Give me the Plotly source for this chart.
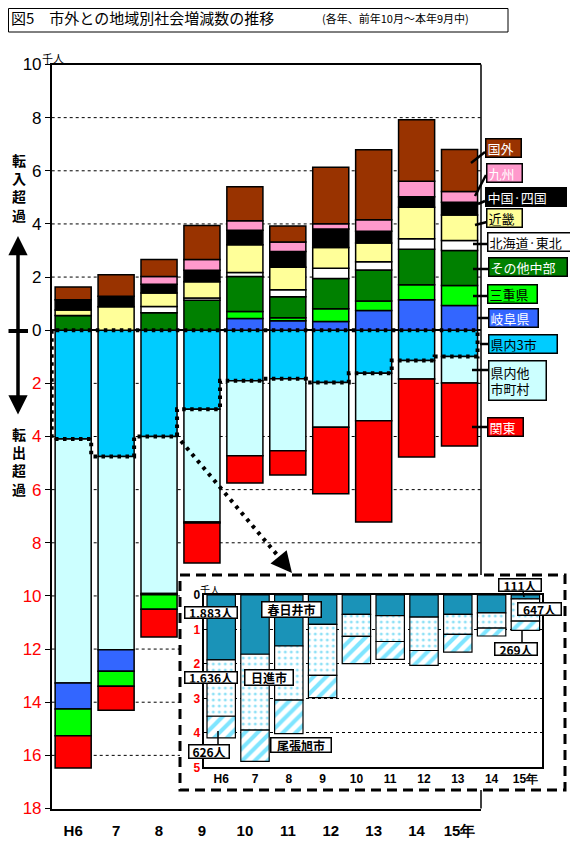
import plotly.graph_objects as go

# 図5 市外との地域別社会増減数の推移 (単位: 千人)
years = ["H6", "7", "8", "9", "10", "11", "12", "13", "14", "15年"]

# 転入超過はプラス, 転出超過はマイナス
kennai3 = [-4.09, -4.75, -4.00, -2.97, -1.90, -1.83, -1.97, -1.62, -1.14, -0.99]
kennai_other = [-9.19, -7.28, -5.91, -4.25, -2.82, -2.71, -1.68, -1.79, -0.70, -1.00]
gifu = [-0.98, -0.80, -0.05, 0, 0.44, 0.36, 0.33, 0.74, 1.15, 0.93]
mie = [-1.00, -0.57, -0.54, -0.04, 0.26, 0.11, 0.48, 0.36, 0.56, 0.75]
chubu = [0.55, 0, 0.66, 1.13, 1.32, 0.79, 1.14, 1.17, 1.34, 1.32]
hokkaido_tohoku = [0, 0, 0.23, 0.08, 0.15, 0.26, 0.38, 0.31, 0.39, 0.38]
kinki = [0.21, 0.88, 0.51, 0.61, 1.05, 0.85, 0.78, 0.70, 1.19, 0.96]
chugoku_shikoku = [0.39, 0.40, 0.33, 0.44, 0.54, 0.59, 0.70, 0.44, 0.39, 0.48]
kyushu = [0, 0, 0.29, 0.40, 0.36, 0.36, 0.20, 0.44, 0.59, 0.40]
kokugai = [0.48, 0.81, 0.64, 1.28, 1.28, 0.60, 2.12, 2.63, 2.31, 1.58]
kanto = [-1.22, -0.90, -1.05, -1.50, -1.03, -0.91, -2.50, -3.81, -2.93, -2.37]

# 県内3市の内訳 (転出超過, 千人)
kasugai = [1.883, 1.72, 1.48, 0.85, 0.56, 0.60, 0.64, 0.56, 0.52, 0.111]
nisshin = [1.636, 2.20, 1.57, 1.48, 0.64, 0.75, 0.97, 0.58, 0.44, 0.647]
owariasahi = [0.626, 0.91, 0.97, 0.65, 0.79, 0.52, 0.43, 0.52, 0.23, 0.269]

main_ticks = list(range(-18, 11, 2))
inset_ticks = [0, 1, 2, 3, 4, 5]

# page has an 8px body margin, so the figure is drawn 8px in from the corner
OFF = 8
W, H = 578 - OFF, 852 - OFF
JP = "Noto Sans CJK JP"
NUM = "Liberation Sans"


def px(x):
    return (x - OFF) / W


def py(y):
    return 1 - (y - OFF) / H


xs = list(range(len(years)))
fig = go.Figure()

main_series = [
    ("県内3市", kennai3, "#00CCFF"),
    ("県内他市町村", kennai_other, "#CCFFFF"),
    ("岐阜県", gifu, "#3366FF"),
    ("三重県", mie, "#00FF00"),
    ("その他中部", chubu, "#008000"),
    ("北海道・東北", hokkaido_tohoku, "#FFFFFF"),
    ("近畿", kinki, "#FFFF99"),
    ("中国・四国", chugoku_shikoku, "#000000"),
    ("九州", kyushu, "#FF99CC"),
    ("国外", kokugai, "#993300"),
    ("関東", kanto, "#FF0000"),
]
for name, vals, col in main_series:
    fig.add_trace(go.Bar(x=xs, y=vals, name=name, marker_color=col,
                         marker_line=dict(color="black", width=1.5),
                         xaxis="x", yaxis="y"))

# dotted outline around the 県内3市 block
half = (1 - 0.16) / 2
ox, oy = [-0.5, -0.5], [0, kennai3[0]]
for i, v in enumerate(kennai3):
    ox += [i + half, i + half]
    oy += [v, kennai3[i + 1] if i + 1 < len(kennai3) else 0]
ox.append(-0.5)
oy.append(0)
fig.add_trace(go.Scatter(x=ox, y=oy, mode="lines", xaxis="x", yaxis="y",
                         line=dict(color="black", width=4, dash="3.5px,4.5px"),
                         hoverinfo="skip"))

# inset: 県内3市
fig.add_trace(go.Bar(x=xs, y=kasugai, name="春日井市", xaxis="x2", yaxis="y2",
                     marker_color="#1A93B8",
                     marker_line=dict(color="black", width=1.2)))
fig.add_trace(go.Bar(x=xs, y=nisshin, name="日進市", xaxis="x2", yaxis="y2",
                     marker=dict(color="white",
                                 line=dict(color="black", width=1.2),
                                 pattern=dict(shape=".", fgcolor="#22C4EE",
                                              bgcolor="white", size=6, solidity=0.2))))
fig.add_trace(go.Bar(x=xs, y=owariasahi, name="尾張旭市", xaxis="x2", yaxis="y2",
                     marker=dict(color="white",
                                 line=dict(color="black", width=1.2),
                                 pattern=dict(shape="/", fgcolor="#00CCFF",
                                              bgcolor="white", size=9, solidity=0.45))))


def red(t):
    return '<span style="color:#FF0000">' + t + "</span>"


main_text = [red(str(abs(v))) if v < 0 else str(v) for v in main_ticks]
inset_text = ["<b>" + (red(str(v)) if v > 0 else str(v)) + "</b>" for v in inset_ticks]


def pline(x0, y0, x1, y1, width, dash=None, layer="above"):
    ln = dict(color="black", width=width)
    if dash:
        ln["dash"] = dash
    return dict(type="line", xref="paper", yref="paper", x0=px(x0), y0=py(y0),
                x1=px(x1), y1=py(y1), line=ln, layer=layer)


shapes = []
# main gridlines (stop at the inset box)
for v in main_ticks:
    if v in (-18, 0, 10):
        continue
    x1 = 1 if v > -9 else (180 - 51.7) / (481 - 51.7)
    shapes.append(dict(type="line", xref="x domain", yref="y", x0=0, x1=x1, y0=v, y1=v,
                       line=dict(color="black", width=1, dash="3px,3px"), layer="below"))
# right border of main plot, hidden behind the inset
for y0, y1 in [(64.5, 575), (790, 808.5)]:
    shapes.append(dict(type="line", xref="x domain", yref="paper", x0=1, x1=1,
                       y0=py(y0), y1=py(y1), line=dict(color="black", width=1.5)))
# title box
shapes.append(dict(type="rect", xref="paper", yref="paper", x0=px(8.5), x1=px(508),
                   y0=py(8.5), y1=py(32), line=dict(color="black", width=1)))
# inset frame
shapes.append(dict(type="rect", xref="paper", yref="paper", x0=px(180), x1=px(565),
                   y0=py(575), y1=py(790), line=dict(color="black", width=3, dash="10px,6px"),
                   layer="above"))
# dotted arrow to inset
shapes.append(pline(181, 441, 284, 563, 4, "3.5px,5px"))
# zero mark on left arrow
shapes.append(pline(8.5, 331, 28, 331, 4))

legend = [
    ("国外", "#993300", "white", 503.5, 148, 37, 20, (471, 163, 485, 152)),
    ("九州", "#FF99CC", "white", 504.5, 172.5, 37, 20, (475, 196, 486, 175)),
    ("中国·四国", "#000000", "white", 526, 197, 82, 20, (478, 204, 485, 201)),
    ("近畿", "#FFFF99", "black", 504.5, 218, 37, 20, (475, 225, 487, 222)),
    ("北海道·東北", "#FFFFFF", "black", 531, 242, 88, 20, (473, 244, 487, 244)),
    ("その他中部", "#008000", "white", 528, 267, 80, 20, (473, 269, 488, 269)),
    ("三重県", "#00FF00", "black", 512.5, 294, 51, 20, (473, 296, 487, 296)),
    ("岐阜県", "#3366FF", "white", 513.5, 318, 51, 20, (478, 318, 488, 318)),
    ("県内3市", "#00CCFF", "black", 523, 344, 70, 20, (480, 344, 488, 344)),
    ("県内他<br>市町村", "#CCFFFF", "black", 517.5, 380.5, 59, 41, (472, 370, 488, 370)),
    ("関東", "#FF0000", "white", 505.5, 426.5, 37, 20, (472, 427, 487, 427)),
]
ann = []


def label(text, x, y, size, color="black", xanchor="center", **kw):
    d = dict(x=px(x), y=py(y), xref="paper", yref="paper", text=text, showarrow=False,
             xanchor=xanchor, yanchor="middle",
             font=dict(family=JP, size=size, color=color))
    d.update(kw)
    return d


for text, bg, fg, cx, cy, w, h, ld in legend:
    ann.append(label(text, cx, cy, 13, fg, bgcolor=bg, bordercolor="black", borderwidth=1.5,
                     borderpad=1, width=w - 5, height=h - 5, align="left"))
    shapes.append(pline(*ld, 2.5))

inset_labels = [
    ("1,883人", 211, 612.5, 54, 13, None),
    ("春日井市", 291, 609, 61, 17, None),
    ("1,636人", 211, 677.5, 54, 13, None),
    ("日進市", 269, 677, 50, 17, None),
    ("626人", 209, 751, 42, 15, (218, 731, 218, 744)),
    ("尾張旭市", 301, 744.5, 62, 16, None),
    ("111人", 520, 584.5, 44, 14, (523, 591, 524, 597)),
    ("647人", 539, 609, 45, 14, None),
    ("269人", 516, 648.5, 44, 14, (522, 630, 522, 642)),
]
for text, cx, cy, w, h, ld in inset_labels:
    ann.append(label("<b>" + text + "</b>", cx, cy, 12, bgcolor="white",
                     bordercolor="black", borderwidth=1.5, borderpad=0,
                     width=w - 3, height=h - 3))
    if ld:
        shapes.append(pline(*ld, 1.5))

ann += [
    label("図5　市外との地域別社会増減数の推移", 9, 17, 15, xanchor="left"),
    label("(各年、前年10月～本年9月中)", 320, 18, 11, xanchor="left"),
    label("千人", 40, 58, 11, xanchor="left"),
    label("千人", 198, 589, 10, xanchor="left"),
    label("<b>転<br>入<br>超<br>過</b>", 19, 188, 14),
    label("<b>転<br>出<br>超<br>過</b>", 19, 461, 14),
    # double arrow
    dict(x=px(18), y=py(236), xref="paper", yref="paper", ax=0, ay=180, text="",
         showarrow=True, arrowhead=2, arrowside="end+start", arrowsize=1.1,
         arrowwidth=3.5, arrowcolor="black", standoff=0, startstandoff=0),
    # head of the dotted arrow
    dict(x=px(292), y=py(573), xref="paper", yref="paper", ax=-10, ay=-12, text="",
         showarrow=True, arrowhead=2, arrowsize=1.4, arrowwidth=3, arrowcolor="black",
         standoff=0),
]

fig.update_layout(
    width=W, height=H, margin=dict(l=0, r=0, t=0, b=0, pad=0),
    plot_bgcolor="white", paper_bgcolor="white",
    barmode="relative", bargap=0.16, showlegend=False,
    shapes=shapes, annotations=ann,
    xaxis=dict(domain=[px(51.7), px(481)], range=[-0.5, 9.5], tickvals=xs,
               ticktext=["<b>" + t + "</b>" for t in years],
               showline=True, linecolor="black", linewidth=1.5, mirror=True,
               showgrid=False, zeroline=False, ticks="", ticklabelstandoff=8,
               tickfont=dict(family=NUM, size=15, color="black"), automargin=False),
    yaxis=dict(domain=[py(808.5), py(64.5)], range=[-18, 10], tickvals=main_ticks,
               ticktext=main_text, showline=True, linecolor="black", linewidth=1.5,
               mirror=False, ticks="outside", ticklen=5, tickcolor="black",
               showgrid=False, zeroline=True, zerolinecolor="black", zerolinewidth=1.5,
               tickfont=dict(family=NUM, size=17, color="black"), automargin=False),
    xaxis2=dict(domain=[px(204.3), px(542.3)], anchor="y2", range=[-0.5, 9.5],
                tickvals=xs, ticktext=["<b>" + t + "</b>" for t in years],
                showline=True, linecolor="black", linewidth=1.5, mirror=True,
                showgrid=False, zeroline=False, ticks="",
                tickfont=dict(family=NUM, size=12, color="black"), automargin=False),
    yaxis2=dict(domain=[py(767.3), py(595)], anchor="x2", range=[5, 0],
                tickvals=inset_ticks, ticktext=inset_text,
                showline=True, linecolor="black", linewidth=1.5, mirror=True,
                showgrid=True, gridcolor="black", gridwidth=1, griddash="3px,3px",
                zeroline=False, ticks="",
                tickfont=dict(family=NUM, size=12, color="black"), automargin=False),
)

fig.write_html("out.html")
